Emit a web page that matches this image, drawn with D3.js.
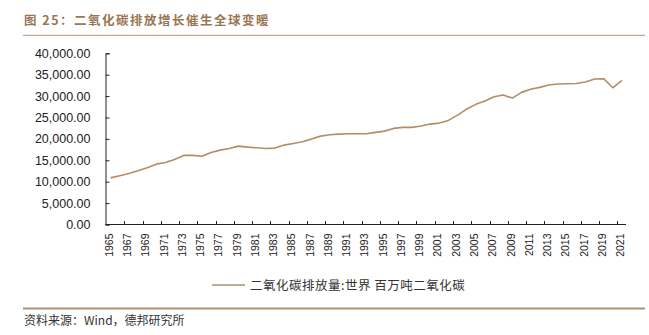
<!DOCTYPE html>
<html>
<head>
<meta charset="utf-8">
<script src="https://cdn.jsdelivr.net/npm/d3@7"></script>
<style>
  html, body { margin: 0; padding: 0; background: #fff; }
  svg { display: block; }
</style>
</head>
<body>
<svg id="chart" width="649" height="335"></svg>
<script>
const years = d3.range(1965, 2022).map(String);
const emissions = [
  10900, 11400, 11930, 12550, 13240, 14100, 14500, 15200, 16140, 16140,
  15950, 16840, 17380, 17770, 18310, 18080, 17920, 17770, 17850, 18550,
  18940, 19320, 19950, 20650, 20960, 21120, 21200, 21200, 21200, 21520,
  21820, 22450, 22690, 22690, 23000, 23460, 23690, 24320, 25560, 26970,
  28070, 28840, 29850, 30240, 29540, 30870, 31580, 32040, 32580, 32820,
  32890, 32960, 33280, 33990, 34070, 31950, 33680
];
const yTicks = [0, 5000, 10000, 15000, 20000, 25000, 30000, 35000, 40000];
const title = "图 25：二氧化碳排放增长催生全球变暖";
const seriesName = "二氧化碳排放量:世界 百万吨二氧化碳";
const source = "资料来源：Wind，德邦研究所";

const svg = d3.select("#chart");
const cjk = "'Noto Sans CJK SC', 'Noto Sans', sans-serif";
const latin = "'Liberation Sans', Arial, sans-serif";

// Title and header rule
svg.append("text")
  .attr("x", 24).attr("y", 25)
  .attr("font-family", cjk).attr("font-weight", "bold")
  .attr("font-size", 12.5).attr("letter-spacing", 1.5)
  .attr("fill", "#9a7655")
  .text(title);
svg.append("line")
  .attr("x1", 23).attr("x2", 645).attr("y1", 35.3).attr("y2", 35.3)
  .attr("stroke", "#ad9684").attr("stroke-width", 1);

// Scales
const x = d3.scaleBand().domain(years).range([106, 626.5]).padding(0);
const y = d3.scaleLinear().domain([0, 40000]).range([224.5, 53.3]);

// Y axis
const yAxis = d3.axisLeft(y).tickValues(yTicks).tickSize(-4).tickPadding(0)
  .tickFormat(d3.format(",.2f"));
const gy = svg.append("g").attr("transform", "translate(105.5,0)").call(yAxis);
gy.select(".domain").attr("stroke", "#222");
gy.selectAll(".tick line").attr("stroke", "#222");
gy.selectAll(".tick text")
  .attr("x", -15)
  .attr("font-family", latin).attr("font-size", 12.5).attr("fill", "#222");

// X axis: ticks every 2 categories at band boundaries
const gx = svg.append("g").attr("transform", "translate(0,224.5)");
gx.append("line").attr("x1", 105.5).attr("x2", 626)
  .attr("stroke", "#222");
const tickYears = years.filter((d, i) => i % 2 === 0 && i > 0);
gx.selectAll(".xt").data(tickYears).enter().append("line")
  .attr("x1", d => Math.round(x(d)) + 0.5).attr("x2", d => Math.round(x(d)) + 0.5)
  .attr("y1", 0).attr("y2", -3.5).attr("stroke", "#222");
const labelYears = years.filter((d, i) => i % 2 === 0);
gx.selectAll(".xl").data(labelYears).enter().append("text")
  .attr("transform", d => `translate(${x(d) + x.bandwidth() / 2 - 1.5},9) rotate(-90)`)
  .attr("text-anchor", "end").attr("dy", "0.35em")
  .attr("font-family", latin).attr("font-size", 10.5).attr("fill", "#222")
  .text(d => d);

// Line
const line = d3.line()
  .x((d, i) => x(years[i]) + x.bandwidth() / 2)
  .y(d => y(d));
svg.append("path").datum(emissions)
  .attr("d", line).attr("fill", "none")
  .attr("stroke", "#b48d67").attr("stroke-width", 1.6)
  .attr("stroke-linejoin", "round");

// Legend
svg.append("line").attr("x1", 212).attr("x2", 245).attr("y1", 285).attr("y2", 285)
  .attr("stroke", "#b48d67").attr("stroke-width", 1.6);
svg.append("text").attr("x", 250).attr("y", 289.5)
  .attr("font-family", cjk).attr("font-size", 12.5).attr("letter-spacing", 0.5)
  .attr("fill", "#333")
  .text(seriesName);

// Footer rule and source
svg.append("line")
  .attr("x1", 23).attr("x2", 645).attr("y1", 308.5).attr("y2", 308.5)
  .attr("stroke", "#b08f74").attr("stroke-width", 2);
svg.append("text").attr("x", 24).attr("y", 325)
  .attr("font-family", cjk).attr("font-size", 12).attr("fill", "#333")
  .text(source);
</script>
</body>
</html>
